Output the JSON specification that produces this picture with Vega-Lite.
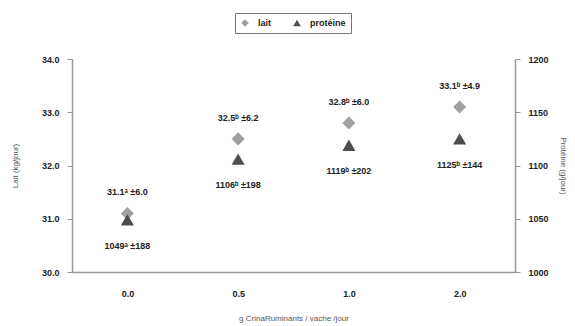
{
  "$schema": "https://vega.github.io/schema/vega-lite/v6.json",
  "autosize": "none",
  "width": 443,
  "height": 213,
  "padding": {"left": 72, "top": 59, "right": 60, "bottom": 54},
  "background": "white",
  "data": {
    "values": [
      {"dose": "0.0", "lait": 31.1, "proteine": 1049, "laitLabel": "31.1ᵃ ±6.0", "protLabel": "1049ᵃ ±188"},
      {"dose": "0.5", "lait": 32.5, "proteine": 1106, "laitLabel": "32.5ᵇ ±6.2", "protLabel": "1106ᵇ ±198"},
      {"dose": "1.0", "lait": 32.8, "proteine": 1119, "laitLabel": "32.8ᵇ ±6.0", "protLabel": "1119ᵇ ±202"},
      {"dose": "2.0", "lait": 33.1, "proteine": 1125, "laitLabel": "33.1ᵇ ±4.9", "protLabel": "1125ᵇ ±144"}
    ]
  },
  "encoding": {
    "x": {
      "field": "dose", "type": "nominal",
      "scale": {"type": "point", "padding": 0.5},
      "axis": {"title": "g CrinaRuminants / vache /jour", "labelAngle": 0, "ticks": false, "labelPadding": 17, "titlePadding": 16}
    }
  },
  "layer": [
    {
      "encoding": {
        "y": {
          "field": "lait", "type": "quantitative",
          "scale": {"domain": [30, 34]},
          "axis": {"orient": "left", "title": "Lait (kg/jour)", "values": [30, 31, 32, 33, 34], "format": ".1f", "labelPadding": 8, "titlePadding": 22}
        }
      },
      "layer": [
        {
          "mark": {"type": "point", "filled": true, "size": 170, "opacity": 1},
          "encoding": {
            "shape": {"datum": "lait", "scale": {"domain": ["lait", "protéine"], "range": ["diamond", "triangle-up"]}, "legend": {"title": null}},
            "color": {"datum": "lait", "scale": {"domain": ["lait", "protéine"], "range": ["#a0a0a0", "#4e4e4e"]}, "legend": {"title": null}}
          }
        },
        {
          "mark": {"type": "text", "dy": -21, "fontSize": 9, "fontWeight": "bold", "font": "Liberation Sans", "color": "#222"},
          "encoding": {"text": {"field": "laitLabel"}}
        }
      ]
    },
    {
      "encoding": {
        "y": {
          "field": "proteine", "type": "quantitative",
          "scale": {"domain": [1000, 1200]},
          "axis": {"orient": "right", "title": "Protéine (g/jour)", "values": [1000, 1050, 1100, 1150, 1200], "format": "d", "labelPadding": 8, "titlePadding": 10}
        }
      },
      "layer": [
        {
          "mark": {"type": "point", "filled": true, "size": 170, "opacity": 1},
          "encoding": {
            "shape": {"datum": "protéine"},
            "color": {"datum": "protéine"}
          }
        },
        {
          "mark": {"type": "text", "dy": 26, "fontSize": 9, "fontWeight": "bold", "font": "Liberation Sans", "color": "#222"},
          "encoding": {"text": {"field": "protLabel"}}
        }
      ]
    }
  ],
  "resolve": {"scale": {"y": "independent"}},
  "config": {
    "view": {"stroke": null},
    "axis": {
      "grid": false,
      "domainColor": "#999",
      "domainWidth": 1.5,
      "tickColor": "#999",
      "tickSize": 5,
      "labelFont": "Liberation Sans",
      "labelFontSize": 9,
      "labelFontWeight": "bold",
      "labelColor": "#222",
      "titleFont": "Liberation Sans",
      "titleFontSize": 8,
      "titleFontWeight": "normal",
      "titleColor": "#555"
    },
    "legend": {
      "orient": "none",
      "legendX": 163,
      "legendY": -46,
      "direction": "horizontal",
      "strokeColor": "#777",
      "padding": 5,
      "labelFont": "Liberation Sans",
      "labelFontSize": 9,
      "labelFontWeight": "bold",
      "labelColor": "#222",
      "symbolSize": 60,
      "labelOffset": 8,
      "columnPadding": 20
    }
  }
}
